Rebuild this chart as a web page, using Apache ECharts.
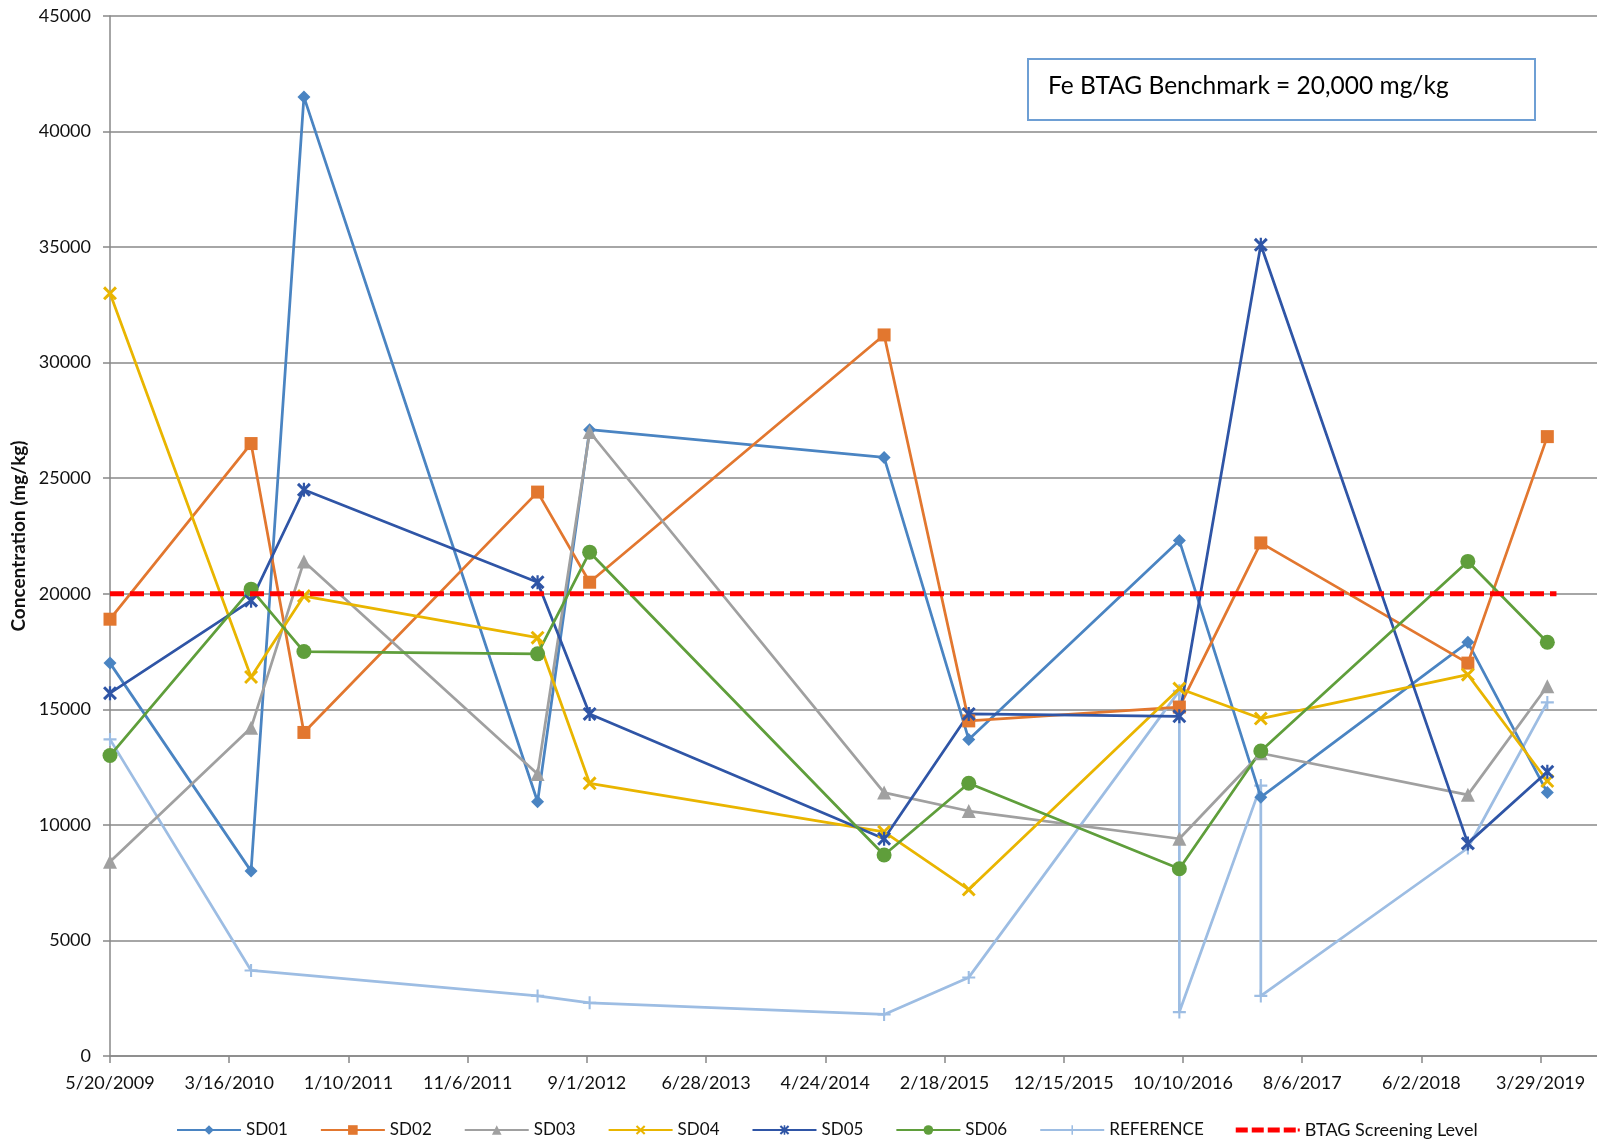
<!DOCTYPE html>
<html>
<head>
<meta charset="utf-8">
<title>Fe concentration in sediment</title>
<script src="https://cdn.jsdelivr.net/npm/echarts@6/dist/echarts.min.js"></script>
<style>
  html, body { margin: 0; padding: 0; background: #ffffff; }
  #chart { width: 1597px; height: 1142px; }
</style>
</head>
<body>
<div id="chart"></div>
<script>
// Sampling dates shared by the SD stations
const sampleDates = ['2009-05-20', '2010-05-10', '2010-09-20', '2012-04-30', '2012-09-08',
  '2014-09-19', '2015-04-20', '2016-10-01', '2017-04-24', '2018-09-27', '2019-04-15'];

// Iron concentrations (mg/kg) per station, one value per sampling date
const sd01 = [17000, 8000, 41500, 11000, 27100, 25900, 13700, 22300, 11200, 17900, 11400];
const sd02 = [18900, 26500, 14000, 24400, 20500, 31200, 14500, 15100, 22200, 17000, 26800];
const sd03 = [8400, 14200, 21400, 12200, 27000, 11400, 10600, 9400, 13100, 11300, 16000];
const sd04 = [33000, 16400, 19900, 18100, 11800, 9700, 7200, 15900, 14600, 16500, 11900];
const sd05 = [15700, 19700, 24500, 20500, 14800, 9400, 14800, 14700, 35100, 9200, 12300];
const sd06 = [13000, 20200, 17500, 17400, 21800, 8700, 11800, 8100, 13200, 21400, 17900];

// Reference station (two samples on some dates)
const referenceDates = ['2009-05-20', '2010-05-10', '2012-04-30', '2012-09-08', '2014-09-19',
  '2015-04-20', '2016-10-01', '2016-10-01', '2017-04-24', '2017-04-24', '2018-09-27', '2019-04-15'];
const referenceValues = [13700, 3700, 2600, 2300, 1800, 3400, 15800, 1900, 11700, 2600, 9000, 15300];

// BTAG screening level drawn across the sampling period
const screeningDates = ['2009-05-20', '2019-05-08'];
const screeningValues = [20000, 20000];

// Axis settings: date axis in days from the first sampling date
const axisStart = '2009-05-20';
const axisEnd = '2019-08-18';
const dayTickStep = 300;
const yTicks = { min: 0, max: 45000, step: 5000 };

const DAY = 86400000;
function toUTC(s) { const p = s.split('-').map(Number); return Date.UTC(p[0], p[1] - 1, p[2]); }
const startMs = toUTC(axisStart);
function dayOffset(s) { return Math.round((toUTC(s) - startMs) / DAY); }
function fmtDay(v) {
  const d = new Date(startMs + v * DAY);
  return (d.getUTCMonth() + 1) + '/' + d.getUTCDate() + '/' + d.getUTCFullYear();
}
function pairs(dates, values) { return dates.map((d, i) => [dayOffset(d), values[i]]); }
const lastDay = dayOffset(axisEnd);

const FONT = 'Lato';
const SYM_X = 'path://M0,1.5L1.5,0L5,3.5L8.5,0L10,1.5L6.5,5L10,8.5L8.5,10L5,6.5L1.5,10L0,8.5L3.5,5Z';
const SYM_STAR = 'path://M0,1.5L1.5,0L5,3.5L8.5,0L10,1.5L6.5,5L10,8.5L8.5,10L5,6.5L1.5,10L0,8.5L3.5,5Z M4.2,0L5.8,0L5.8,10L4.2,10Z';
const SYM_PLUS = 'path://M4.2,0L5.8,0L5.8,4.2L10,4.2L10,5.8L5.8,5.8L5.8,10L4.2,10L4.2,5.8L0,5.8L0,4.2L4.2,4.2Z';
const DASH_ICON = 'path://M0,0H12V5H0Z M16,0H28V5H16Z M32,0H44V5H32Z M48,0H60V5H48Z M62,1H64V4H62Z';

function station(name, values, color, symbol, size) {
  return {
    name: name, type: 'line', data: pairs(sampleDates, values),
    symbol: symbol, symbolSize: size, showAllSymbol: true,
    lineStyle: { color: color, width: 2.75 },
    itemStyle: { color: color },
    z: 3
  };
}

const chart = echarts.init(document.getElementById('chart'), null, { renderer: 'canvas' });
chart.setOption({
  animation: false,
  backgroundColor: '#ffffff',
  textStyle: { fontFamily: FONT },
  grid: { left: 110, top: 16, bottom: 86, right: 0 },
  xAxis: {
    type: 'value', min: 0, max: lastDay, interval: dayTickStep,
    axisLine: { show: true, lineStyle: { color: '#888888', width: 1.5 } },
    axisTick: { show: true, length: 7, lineStyle: { color: '#888888', width: 1.5 } },
    splitLine: { show: false },
    axisLabel: {
      margin: 18, color: '#111', fontSize: 18, fontFamily: FONT,
      showMaxLabel: false,
      formatter: v => (v % dayTickStep !== 0 ? '' : fmtDay(v))
    }
  },
  yAxis: {
    type: 'value', min: yTicks.min, max: yTicks.max, interval: yTicks.step,
    name: 'Concentration (mg/kg)', nameLocation: 'middle', nameGap: 65,
    nameTextStyle: { fontWeight: 'bold', fontSize: 19, color: '#111', fontFamily: FONT },
    axisLine: { show: true, lineStyle: { color: '#888888', width: 1.5 } },
    axisTick: { show: true, length: 7, lineStyle: { color: '#888888', width: 1.5 } },
    splitLine: { show: true, lineStyle: { color: '#888888', width: 1.6 } },
    axisLabel: { margin: 19, color: '#111', fontSize: 18, fontFamily: FONT, formatter: v => String(v) }
  },
  legend: {
    left: 171, top: 1116, itemWidth: 64, itemHeight: 12, itemGap: 32,
    textStyle: { fontSize: 17, color: '#111', fontFamily: FONT },
    data: ['SD01', 'SD02', 'SD03', 'SD04', 'SD05', 'SD06', 'REFERENCE',
      { name: 'BTAG Screening Level', icon: DASH_ICON, textStyle: { fontSize: 18 } }]
  },
  graphic: [{
    type: 'group', left: 1027, top: 58,
    children: [
      { type: 'rect', shape: { x: 0, y: 0, width: 507, height: 61 },
        style: { fill: '#ffffff', stroke: '#6e9fd4', lineWidth: 2 } },
      { type: 'text', x: 20, y: 27,
        style: { text: 'Fe BTAG Benchmark = 20,000 mg/kg', fill: '#000', font: '24.5px Lato',
                 textVerticalAlign: 'middle' } }
    ]
  }],
  series: [
    station('SD01', sd01, '#4a84c2', 'diamond', 13),
    station('SD02', sd02, '#e2772f', 'rect', 13),
    station('SD03', sd03, '#a0a0a0', 'triangle', 14),
    station('SD04', sd04, '#e9b500', SYM_X, 14),
    station('SD05', sd05, '#2f55a6', SYM_STAR, 14),
    station('SD06', sd06, '#5f9e3b', 'circle', 15),
    {
      name: 'REFERENCE', type: 'line', data: pairs(referenceDates, referenceValues),
      symbol: SYM_PLUS, symbolSize: 13, showAllSymbol: true,
      lineStyle: { color: '#9dbde3', width: 2.75 }, itemStyle: { color: '#9dbde3' }, z: 2
    },
    {
      name: 'BTAG Screening Level', type: 'line', data: pairs(screeningDates, screeningValues),
      symbol: 'none',
      lineStyle: { color: '#ff0000', width: 5, type: [14, 6], cap: 'butt' },
      itemStyle: { color: '#ff0000' }, z: 4
    }
  ]
});
</script>
</body>
</html>
